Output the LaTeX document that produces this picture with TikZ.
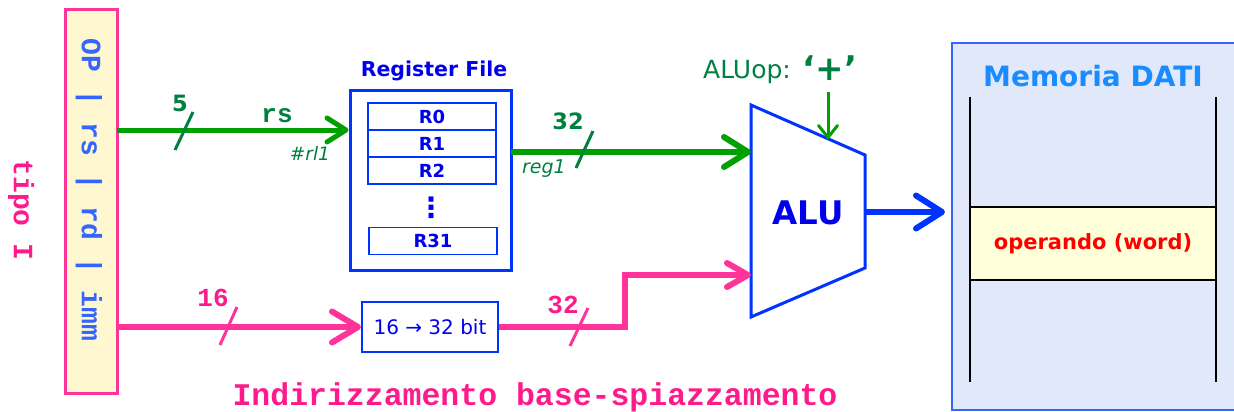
\documentclass[tikz,border=0pt]{standalone}
\usepackage{fontspec}
\setmainfont{DejaVu Sans}
\newfontfamily\mono{Liberation Mono}
\usetikzlibrary{arrows.meta}

\definecolor{pinkline}{HTML}{FF3399}
\definecolor{pinktext}{HTML}{FF1A8C}
\definecolor{fieldblue}{HTML}{3366FF}
\definecolor{instrfill}{HTML}{FFF7D0}
\definecolor{busgreen}{HTML}{00A000}
\definecolor{labelgreen}{HTML}{008040}
\definecolor{hwblue}{HTML}{0033FF}
\definecolor{txtblue}{HTML}{0000EE}
\definecolor{memfill}{HTML}{E0E8FA}
\definecolor{memborder}{HTML}{3366FF}
\definecolor{memtitle}{HTML}{1A8CFF}
\definecolor{wordfill}{HTML}{FFFFD9}

\newcommand\fsz[1]{\fontsize{#1}{#1}\selectfont}

\begin{document}
\begin{tikzpicture}[x=1pt,y=-1pt,
  regrow/.style={draw=hwblue, line width=1.5pt, minimum width=128pt,
    minimum height=27pt, inner sep=0pt, text=txtblue, font=\bfseries\fsz{18}},
  greenlbl/.style={text=labelgreen, inner sep=0pt},
  pinklbl/.style={text=pinktext, inner sep=0pt, font=\mono\bfseries\fsz{26}},
  tick/.style={line width=3pt},
  barb/.style 2 args={-{Straight Barb[length=#1,width=#2,round]}},
]
\useasboundingbox (0,0) rectangle (1234,412);

% instruction format
\node[rotate=-90, pinklbl, font=\mono\bfseries\fsz{28}] (tipo) at (21,210) {tipo I};
\node[fill=instrfill, draw=pinkline, line width=3pt, minimum width=52pt,
      minimum height=383pt, inner sep=0pt] (instr) at (91,201.5) {};
\node[rotate=-90, text=fieldblue, inner sep=0pt, font=\mono\bfseries\fsz{28}] (fields)
      at (89,190) {OP | rs | rd | imm};
\coordinate (rsout) at (117,130);
\coordinate (immout) at (117,327);

% register file
\node[draw=hwblue, line width=3pt, minimum width=161pt, minimum height=180pt,
      inner sep=0pt] (rf) at (430.5,180) {};
\node[text=txtblue, inner sep=0pt, font=\bfseries\fsz{20.5}] (rftitle) at (434,71) {Register File};
\node[regrow] (r0) at (432,116.5) {R0};
\node[regrow] (r1) at (432,143.5) {R1};
\node[regrow] (r2) at (432,170.5) {R2};
\node[text=txtblue, inner sep=0pt, font=\bfseries\fsz{28}] (rdots) at (431,208) {⋮};
\node[regrow] (r31) at (433,241) {R31};
\coordinate (rfout) at (511,152);

% rs bus
\draw[busgreen, line width=5pt, barb={19pt}{24pt}] (rsout) -- (rf.west |- rsout);
\draw[labelgreen, tick] (175,150) -- (193,112);
\node[greenlbl, font=\bfseries\fsz{22.5}] (n5) at (180,103) {5};
\node[greenlbl, font=\mono\bfseries\fsz{26}] (rslbl) at (277,116) {rs};
\node[greenlbl, font=\itshape\fsz{18.5}] (rl1) at (310,153) {\#rl1};

% ALU
\coordinate (a1) at (751,105);
\coordinate (a2) at (865,155);
\coordinate (a3) at (865,268);
\coordinate (a4) at (751,317);
\draw[hwblue, line width=3pt, line join=miter] (a1) -- (a2) -- (a3) -- (a4) -- cycle;
\node[text=txtblue, inner sep=0pt, font=\bfseries\fsz{32.5}] (alu) at (808,213) {ALU};
\coordinate (aluin1) at (751,152);
\coordinate (aluin2) at (751,275);
\coordinate (aluout) at (865,212);
\coordinate (aluop) at (828,139);

% reg1 bus
\draw[busgreen, line width=6pt, barb={24pt}{30pt}] (rfout) -- (aluin1);
\draw[labelgreen, tick] (576,168) -- (593,131);
\node[greenlbl, font=\bfseries\fsz{22.5}] (n32g) at (568,121) {32};
\node[greenlbl, font=\itshape\fsz{19}] (reg1) at (544,169) {reg1};

% ALU operation
\node[greenlbl, font=\fsz{25}] (aluoplbl) at (747,72) {ALUop:};
\node[greenlbl, font=\bfseries\fsz{34}] (plus) at (830,68) {‘+’};
\draw[busgreen, line width=3pt, barb={12pt}{19pt}] (828,92) -- (aluop);

% data memory
\node[fill=memfill, draw=memborder, line width=2pt, minimum width=286pt,
      minimum height=367pt, inner sep=0pt] (mem) at (1095,226.5) {};
\node[text=memtitle, inner sep=0pt, font=\bfseries\fsz{28}] (memtitle) at (1093,76) {Memoria DATI};
\node[fill=wordfill, draw=black, line width=1.5pt, minimum width=246pt,
      minimum height=73pt, inner sep=0pt, text=red, font=\bfseries\fsz{21}]
      (word) at (1093,243.5) {operando (word)};
\draw[black, line width=2.5pt] (970,97) -- (970,382);
\draw[black, line width=2.5pt] (1216,97) -- (1216,382);

% ALU result to memory
\draw[hwblue, line width=6pt, barb={26pt}{33pt}] (aluout) -- (945,212);

% immediate path
\node[draw=hwblue, line width=2pt, minimum width=136pt, minimum height=50pt,
      inner sep=0pt, text=txtblue, font=\fsz{20}] (ext) at (430,327) {16 → 32 bit};
\draw[pinkline, line width=6pt, barb={26pt}{31pt}] (immout) -- (ext.west);
\draw[pinkline, tick] (220,345) -- (237,307);
\node[pinklbl] (n16) at (213,298) {16};
\draw[pinkline, line width=6pt, line join=miter, barb={21pt}{24pt}]
  (ext.east) -- (625,327) |- (aluin2);
\draw[pinkline, tick] (570,346) -- (588,308);
\node[pinklbl] (n32p) at (563,305) {32};

% caption
\node[pinklbl, font=\mono\bfseries\fsz{31.5}] (caption) at (535,397)
  {Indirizzamento base-spiazzamento};
\end{tikzpicture}
\end{document}
